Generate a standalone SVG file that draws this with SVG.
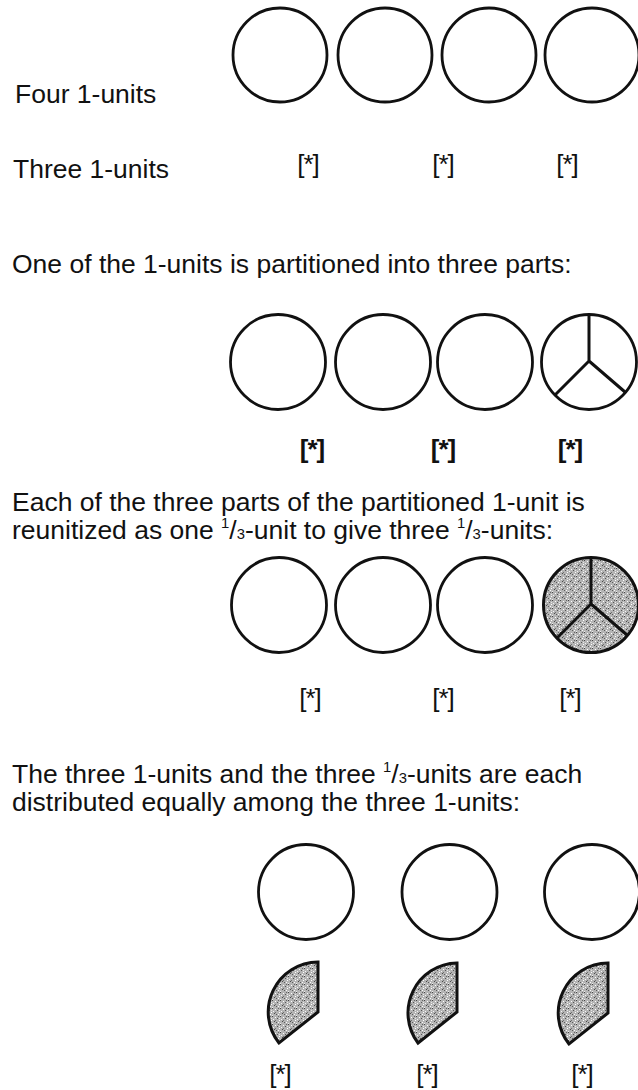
<svg xmlns="http://www.w3.org/2000/svg" width="638" height="1090" viewBox="0 0 638 1090">
<style>
.t{font-family:"Liberation Sans",Arial,sans-serif;font-size:25px;fill:#111}
.b{font-family:"Liberation Sans",Arial,sans-serif;font-size:26px;fill:#111;text-anchor:middle;letter-spacing:-1px}
.bb{font-weight:bold}
.c{fill:#fff;stroke:#111;stroke-width:2.8}
.s{fill:url(#stip);stroke:#111;stroke-width:3}
.sp{stroke:#111;stroke-width:3;fill:none;stroke-linecap:butt}
</style>
<defs>
<pattern id="stip" width="8" height="8" patternUnits="userSpaceOnUse">
<rect width="8" height="8" fill="#b4b4b4"/>
<rect x="0" y="0" width="1" height="1" fill="#444"/>
<rect x="3" y="1" width="1" height="1" fill="#fff"/>
<rect x="6" y="0" width="1" height="1" fill="#666"/>
<rect x="1" y="3" width="1" height="1" fill="#f4f4f4"/>
<rect x="5" y="2" width="1" height="1" fill="#555"/>
<rect x="2" y="5" width="1" height="1" fill="#4a4a4a"/>
<rect x="7" y="4" width="1" height="1" fill="#fff"/>
<rect x="4" y="6" width="1" height="1" fill="#5a5a5a"/>
<rect x="0" y="7" width="1" height="1" fill="#eee"/>
<rect x="6" y="6" width="1" height="1" fill="#fafafa"/>
<rect x="3" y="4" width="1" height="1" fill="#707070"/>
<rect x="7" y="2" width="1" height="1" fill="#e8e8e8"/>
</pattern>
</defs>

<g id="labels">
<text class="t" transform="translate(15,103) scale(1.06,1)">Four 1-units</text>
<text class="t" transform="translate(13,178) scale(1.06,1)">Three 1-units</text>
<text class="t" transform="translate(12,273) scale(1.06,1)">One of the 1-units is partitioned into three parts:</text>
<text class="t" transform="translate(12,511) scale(1.06,1)">Each of the three parts of the partitioned 1-unit is</text>
<text class="t" transform="translate(12,539) scale(1.06,1)">reunitized as one <tspan font-size="14" dy="-11">1</tspan><tspan dy="11">/</tspan><tspan font-size="14">3</tspan>-unit to give three <tspan font-size="14" dy="-11">1</tspan><tspan dy="11">/</tspan><tspan font-size="14">3</tspan>-units:</text>
<text class="t" transform="translate(12,783) scale(1.06,1)">The three 1-units and the three <tspan font-size="14" dy="-11">1</tspan><tspan dy="11">/</tspan><tspan font-size="14">3</tspan>-units are each</text>
<text class="t" transform="translate(12,811) scale(1.06,1)">distributed equally among the three 1-units:</text>
</g>

<g id="row1">
<circle class="c" cx="280" cy="55" r="47"/>
<circle class="c" cx="385" cy="55" r="47"/>
<circle class="c" cx="489" cy="55" r="47"/>
<circle class="c" cx="592" cy="55" r="47"/>
</g>
<g id="brackets1">
<text class="b" x="308" y="172.5">[*]</text>
<text class="b" x="443" y="172.5">[*]</text>
<text class="b" x="567" y="172.5">[*]</text>
</g>

<g id="row2">
<circle class="c" cx="278" cy="362" r="47.5"/>
<circle class="c" cx="383" cy="362" r="47.5"/>
<circle class="c" cx="485" cy="362" r="47.5"/>
<g id="partitioned">
<circle class="c" cx="589" cy="362" r="47.5"/>
<path class="sp" d="M589,314.5 L589,361 M589,361 L555,395 M589,361 L625,392"/>
</g>
</g>
<g id="brackets2">
<text class="b bb" x="312" y="457.5">[*]</text>
<text class="b bb" x="443" y="457.5">[*]</text>
<text class="b bb" x="570" y="457.5">[*]</text>
</g>

<g id="row3">
<circle class="c" cx="279" cy="605" r="47.5"/>
<circle class="c" cx="383" cy="605" r="47.5"/>
<circle class="c" cx="485" cy="605" r="47.5"/>
<g id="shaded">
<circle class="s" cx="591" cy="605" r="47.5"/>
<path class="sp" d="M591,557.5 L591,604 M591,604 L557,638 M591,604 L627,635"/>
</g>
</g>
<g id="brackets3">
<text class="b" x="310" y="706.5">[*]</text>
<text class="b" x="443" y="706.5">[*]</text>
<text class="b" x="570" y="706.5">[*]</text>
</g>

<g id="row4">
<g id="share1">
<circle class="c" cx="306" cy="892" r="47.5"/>
<path class="s" d="M318,962 L318,1012 L279,1043 A50,50 0 0 1 318,962 Z"/>
</g>
<g id="share2">
<circle class="c" cx="449.5" cy="892" r="47.5"/>
<path class="s" d="M457,963 L457,1012 L418,1043 A50,50 0 0 1 457,963 Z"/>
</g>
<g id="share3">
<circle class="c" cx="592" cy="892" r="47.5"/>
<path class="s" d="M608,963 L608,1013 L569,1044 A50,50 0 0 1 608,963 Z"/>
</g>
</g>
<g id="brackets4">
<text class="b" x="280" y="1082.5">[*]</text>
<text class="b" x="427" y="1082.5">[*]</text>
<text class="b" x="582" y="1082.5">[*]</text>
</g>
</svg>
